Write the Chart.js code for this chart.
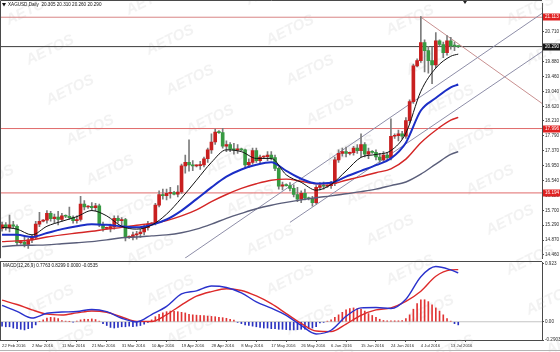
<!DOCTYPE html>
<html>
<head>
<meta charset="utf-8">
<title>XAGUSD Daily</title>
<script src="https://cdn.jsdelivr.net/npm/chart.js@4.4.1/dist/chart.umd.min.js"></script>
<style>
  html, body { margin: 0; padding: 0; background: #fff; }
  #wrap { position: relative; width: 560px; height: 352px; overflow: hidden; background: #fff; }
  #wrap canvas { position: absolute; left: 0; }
  #priceChart { top: 0; }
  #macdChart { top: 252px; }
  #frame { position: absolute; left: 0; top: 350px; width: 560px; height: 1px; background: #b4b4b4; }
</style>
</head>
<body>
<div id="wrap">
  <canvas id="priceChart" width="560" height="262"></canvas>
  <canvas id="macdChart" width="560" height="100"></canvas>
  <div id="frame"></div>
</div>
<script>
// ---- data: XAGUSD daily, 22 Feb 2016 - 14 Jul 2016 (with Sunday bars) ----
const xTickIdx = [0, 8, 16, 24, 32, 40, 48, 56, 64, 72, 80, 88, 96, 104, 112, 120];
const xLabels = ["22 Feb 2016", "2 Mar 2016", "11 Mar 2016", "21 Mar 2016", "31 Mar 2016",
  "10 Apr 2016", "19 Apr 2016", "28 Apr 2016", "8 May 2016", "17 May 2016", "26 May 2016",
  "6 Jun 2016", "15 Jun 2016", "24 Jun 2016", "4 Jul 2016", "13 Jul 2016"];
const priceTicks = [20.710, 20.290, 19.880, 19.460, 19.040, 18.620, 18.210, 17.790,
  17.370, 16.950, 16.540, 16.120, 15.700, 15.290, 14.870, 14.460];

const opens = [
  15.20, 15.30, 15.22, 15.30, 15.26, 14.80, 14.82, 14.75, 14.88, 14.95,
  15.32, 15.40, 15.43, 15.62, 15.47, 15.52, 15.45, 15.55, 15.54, 15.50,
  15.42, 15.45, 15.88, 15.80, 15.82, 15.78, 15.83, 15.30, 15.20, 15.22,
  15.25, 15.48, 15.42, 15.45, 14.95, 14.96, 15.02, 15.05, 15.10, 15.22,
  15.32, 15.34, 15.85, 16.15, 16.12, 16.18, 16.20, 16.16, 16.22, 16.95,
  17.05, 16.98, 16.95, 16.96, 16.98, 17.15, 17.40, 17.62, 17.90, 17.88,
  17.50, 17.55, 17.42, 17.40, 17.42, 17.40, 16.98, 17.05, 17.38, 17.10,
  17.20, 17.21, 17.25, 17.18, 16.88, 16.38, 16.42, 16.40, 16.32, 16.15,
  16.02, 16.18, 16.05, 16.03, 15.92, 16.35, 16.40, 16.38, 16.40, 16.45,
  17.12, 17.30, 17.35, 17.30, 17.32, 17.45, 17.38, 17.55, 17.28, 17.35,
  17.33, 17.20, 17.12, 17.25, 17.18, 17.78, 17.80, 17.85, 17.78, 18.22,
  18.75, 19.75, 19.90, 20.40, 20.18, 19.90, 19.78, 20.45, 20.35, 20.12,
  20.45, 20.31, 20.305];
const highs = [
  15.38, 15.36, 15.57, 15.40, 15.30, 14.84, 14.95, 14.92, 15.02, 15.40,
  15.65, 15.45, 15.70, 15.68, 15.60, 15.68, 15.62, 15.58, 15.80, 15.55,
  15.55, 16.10, 15.98, 15.84, 15.92, 15.90, 15.88, 15.38, 15.24, 15.32,
  15.55, 15.55, 15.50, 15.48, 14.99, 15.10, 15.12, 15.18, 15.30, 15.40,
  15.36, 15.90, 16.25, 16.30, 16.30, 16.35, 16.24, 16.40, 17.00, 17.25,
  17.68, 17.10, 16.98, 17.08, 17.20, 17.45, 17.85, 17.98, 17.94, 18.00,
  17.65, 17.60, 17.58, 17.55, 17.45, 17.42, 17.15, 17.45, 17.45, 17.25,
  17.23, 17.35, 17.35, 17.25, 16.92, 16.50, 16.45, 16.48, 16.42, 16.35,
  16.25, 16.30, 16.08, 16.10, 16.40, 16.48, 16.50, 16.42, 16.52, 17.20,
  17.40, 17.45, 17.48, 17.34, 17.50, 17.55, 17.85, 17.60, 17.45, 17.38,
  17.40, 17.30, 17.35, 17.32, 18.27, 17.85, 17.95, 17.92, 18.30, 18.80,
  19.80, 19.95, 21.13, 20.48, 20.30, 20.28, 20.68, 20.48, 20.42, 20.60,
  20.55, 20.42, 20.31];
const lows = [
  15.12, 15.15, 15.10, 15.20, 14.72, 14.76, 14.68, 14.64, 14.80, 14.90,
  15.25, 15.38, 15.35, 15.40, 15.35, 15.30, 15.40, 15.50, 15.45, 15.35,
  15.35, 15.40, 15.72, 15.76, 15.70, 15.68, 15.25, 15.12, 15.17, 15.10,
  15.18, 15.35, 15.30, 14.85, 14.92, 14.88, 14.90, 14.95, 15.02, 15.15,
  15.30, 15.30, 15.80, 16.02, 16.00, 16.05, 16.14, 16.08, 16.18, 16.75,
  16.80, 16.82, 16.92, 16.85, 16.92, 17.05, 17.30, 17.55, 17.86, 17.45,
  17.35, 17.35, 17.28, 17.30, 17.38, 16.90, 16.90, 17.00, 17.05, 17.02,
  17.17, 17.10, 17.12, 16.82, 16.30, 16.28, 16.38, 16.25, 16.08, 15.95,
  15.92, 16.00, 16.00, 15.82, 15.88, 16.28, 16.30, 16.35, 16.32, 16.40,
  17.05, 17.22, 17.20, 17.26, 17.25, 17.30, 17.20, 17.20, 17.15, 17.30,
  17.12, 17.05, 17.08, 17.10, 17.12, 17.72, 17.65, 17.70, 17.72, 18.15,
  18.70, 19.72, 19.85, 19.58, 19.55, 19.25, 19.70, 20.30, 19.98, 20.05,
  20.22, 20.18, 20.26];
const closes = [
  15.30, 15.22, 15.30, 15.26, 14.80, 14.82, 14.75, 14.88, 14.95, 15.32,
  15.40, 15.43, 15.62, 15.47, 15.52, 15.45, 15.55, 15.54, 15.50, 15.42,
  15.45, 15.88, 15.80, 15.82, 15.78, 15.83, 15.30, 15.20, 15.22, 15.25,
  15.48, 15.42, 15.45, 14.95, 14.96, 15.02, 15.05, 15.10, 15.22, 15.32,
  15.34, 15.85, 16.15, 16.12, 16.18, 16.20, 16.16, 16.22, 16.95, 17.05,
  16.98, 16.95, 16.96, 16.98, 17.15, 17.40, 17.62, 17.90, 17.88, 17.50,
  17.55, 17.42, 17.40, 17.42, 17.40, 16.98, 17.05, 17.38, 17.10, 17.20,
  17.21, 17.25, 17.18, 16.88, 16.38, 16.42, 16.40, 16.32, 16.15, 16.02,
  16.18, 16.05, 16.03, 15.92, 16.35, 16.40, 16.38, 16.40, 16.45, 17.12,
  17.30, 17.35, 17.30, 17.32, 17.45, 17.38, 17.55, 17.28, 17.35, 17.33,
  17.20, 17.12, 17.25, 17.18, 17.78, 17.80, 17.85, 17.78, 18.22, 18.75,
  19.75, 19.90, 20.40, 20.18, 19.90, 19.78, 20.45, 20.35, 20.12, 20.45,
  20.31, 20.305, 20.29];

// moving averages, read at every 4th bar
const maIdx = [0, 4, 8, 12, 16, 20, 24, 28, 32, 36, 40, 44, 48, 52, 56, 60,
  64, 68, 72, 76, 80, 84, 88, 92, 96, 100, 104, 108, 112, 116, 120, 122];
const maBlack = [15.23, 15.18, 15.02, 15.26, 15.40, 15.53, 15.70, 15.55, 15.26, 15.18, 15.29, 15.60,
  16.05, 16.55, 17.05, 17.40, 17.35, 17.16, 17.16, 16.70, 16.49, 16.27, 16.43, 16.81, 17.19, 17.27,
  17.38, 17.87, 19.04, 19.69, 20.02, 20.08];
const maBlue = [15.02, 15.02, 14.96, 15.07, 15.18, 15.26, 15.32, 15.30, 15.26, 15.23, 15.30, 15.45,
  15.70, 16.02, 16.35, 16.65, 16.85, 16.98, 17.05, 16.81, 16.59, 16.46, 16.48, 16.65, 16.81, 16.97,
  17.16, 17.60, 18.50, 18.85, 19.15, 19.23];
const maRed = [14.83, 14.85, 14.88, 14.96, 15.02, 15.07, 15.12, 15.18, 15.23, 15.29, 15.34, 15.42,
  15.55, 15.72, 15.95, 16.15, 16.32, 16.45, 16.55, 16.58, 16.52, 16.45, 16.45, 16.55, 16.65, 16.76,
  16.87, 17.14, 17.60, 17.95, 18.23, 18.31];
const maGray = [14.69, 14.72, 14.73, 14.74, 14.77, 14.80, 14.83, 14.88, 14.94, 14.96, 14.99, 15.02,
  15.08, 15.18, 15.32, 15.48, 15.62, 15.75, 15.85, 15.93, 16.00, 16.06, 16.11, 16.17, 16.23, 16.30,
  16.40, 16.50, 16.72, 17.00, 17.27, 17.35];

// horizontal levels and trend lines (bar index, price)
const levelValues = [21.113, 20.290, 17.996, 16.194];
const trendX = [[48.9, 144.4], [77, 144.4], [111.8, 144.4]];
const trendY = [[14.365, 21.22], [15.37, 20.15], [21.13, 18.70]];

// MACD(12,26,9)
const macdHeader = [0.7763, 0.8299, 0.0000, -0.0535];
const macdTicks = [0.923, 0, -0.2903];
const macdMain = [0.261, 0.164, 0.059, 0.135, 0.154, 0.162, 0.196, 0.161, 0.056, -0.003, 0.114, 0.245,
  0.442, 0.491, 0.568, 0.545, 0.461, 0.315, 0.216, 0.102, -0.059, -0.194, -0.135, 0.087, 0.221, 0.226,
  0.211, 0.359, 0.717, 0.878, 0.824, 0.776];
const macdSignal = [0.343, 0.275, 0.189, 0.121, 0.108, 0.141, 0.172, 0.151, 0.076, 0.006, 0.005, 0.113,
  0.267, 0.407, 0.480, 0.526, 0.498, 0.410, 0.288, 0.130, -0.027, -0.148, -0.157, -0.037, 0.103, 0.188,
  0.221, 0.324, 0.485, 0.723, 0.825, 0.830];
const macdHist = [
  -0.07, -0.08, -0.08, -0.10, -0.11, -0.12, -0.13, -0.11, -0.10, -0.05,
  0.005, 0.03, 0.06, 0.07, 0.065, 0.05, 0.02, 0.01, 0.005, -0.005,
  0.01, 0.03, 0.04, 0.04, 0.045, 0.035, 0.01, -0.03, -0.06, -0.09,
  -0.10, -0.09, -0.08, -0.08, -0.07, -0.08, -0.07, -0.06, -0.04, -0.01,
  0.03, 0.08, 0.12, 0.14, 0.16, 0.17, 0.165, 0.16, 0.15, 0.14,
  0.12, 0.11, 0.105, 0.10, 0.10, 0.09, 0.085, 0.08, 0.07, 0.065,
  0.055, 0.04, 0.025, -0.01, -0.03, -0.05, -0.06, -0.07, -0.08, -0.09,
  -0.10, -0.10, -0.11, -0.11, -0.12, -0.12, -0.125, -0.13, -0.13, -0.125,
  -0.12, -0.12, -0.11, -0.10, -0.08, -0.02, -0.01, 0.01, 0.03, 0.07,
  0.11, 0.15, 0.19, 0.21, 0.22, 0.21, 0.20, 0.17, 0.13, 0.10,
  0.07, 0.04, 0.02, 0.015, 0.015, 0.015, 0.015, 0.02, 0.05, 0.11,
  0.20, 0.29, 0.35, 0.35, 0.32, 0.27, 0.22, 0.17, 0.11, 0.05,
  0.01, -0.03, -0.05];

// ---- styles ----
const FONT = "Liberation Sans";
const X_MIN = -0.55, X_MAX = 144.4;
const UP = "#c81f1f", DOWN = "#379a42", WICK = "#7c7c7c";
const levelLineColors = ["#d88585", "#3c3c3c", "#e06a6a", "#e06a6a"];
const levelBoxColors = ["#e02222", "#161616", "#e02222", "#e02222"];
const trendColors = ["#8e8ea8", "#8e8ea8", "#c99090"];
const AXIS = "#4a4a4a";

const barIdx = opens.map((_, i) => i);

function maLine(values, color, width, order) {
  return {
    type: "line",
    data: maIdx.map((x, k) => ({ x, y: values[k] })),
    borderColor: color,
    borderWidth: width,
    pointRadius: 0,
    cubicInterpolationMode: "monotone",
    order,
  };
}

// AETOS watermark, drawn in page coordinates
function drawWatermark(chart, offsetY, minY) {
  const ctx = chart.ctx;
  ctx.save();
  ctx.beginPath();
  ctx.rect(0, minY, chart.width, chart.height - minY);
  ctx.clip();
  ctx.font = "bold italic 15px " + FONT;
  ctx.fillStyle = "rgba(175,175,175,0.17)";
  ctx.textAlign = "center";
  ctx.textBaseline = "middle";
  for (let n = -3; n < 11; n++) {
    for (let m = -2; m < 7; m++) {
      const x = 30 + 120 * m + 20 * n;
      const y = 10 + 40 * n - 10 * m - offsetY;
      if (x < -50 || x > 620 || y < -30 || y > chart.height + 30) continue;
      ctx.save();
      ctx.translate(x, y);
      ctx.rotate(-0.45);
      ctx.fillText("AETOS", 0, 0);
      ctx.restore();
    }
  }
  ctx.restore();
}

const priceDecor = {
  id: "priceDecor",
  beforeDatasetsDraw(chart) {
    drawWatermark(chart, 0, 0);
  },
  afterDraw(chart) {
    const { ctx, chartArea: a } = chart;
    const y = chart.scales.y;
    ctx.save();
    ctx.strokeStyle = AXIS;
    ctx.lineWidth = 1;
    ctx.beginPath();
    ctx.moveTo(0.5, a.bottom); ctx.lineTo(0.5, 0.5); ctx.lineTo(a.right, 0.5);
    ctx.stroke();
    // level price boxes on the axis
    ctx.font = "4.6px " + FONT;
    ctx.textBaseline = "middle";
    levelValues.forEach((v, k) => {
      const py = y.getPixelForValue(v);
      ctx.fillStyle = levelBoxColors[k];
      ctx.fillRect(a.right + 1, Math.round(py) - 3.5, 18, 7);
      ctx.fillStyle = "#fff";
      ctx.fillText(v.toFixed(3), a.right + 3, py);
    });
    // title
    const n = opens.length - 1;
    ctx.fillStyle = "#111";
    ctx.beginPath();
    ctx.moveTo(2, 3); ctx.lineTo(6, 3); ctx.lineTo(4, 6.5); ctx.closePath();
    ctx.fill();
    ctx.font = "4.6px " + FONT;
    ctx.fillText("XAGUSD,Daily  " + [opens[n], highs[n], lows[n], closes[n]].map(v => v.toFixed(3)).join(" "), 8, 5);
    // chart shift marker
    ctx.fillStyle = "#222";
    ctx.beginPath();
    ctx.moveTo(463, 1); ctx.lineTo(467, 1); ctx.lineTo(465, 4); ctx.closePath();
    ctx.fill();
    ctx.restore();
  },
};

new Chart(document.getElementById("priceChart"), {
  type: "bar",
  data: {
    datasets: [
      ...levelValues.map((v, k) => ({
        type: "line",
        data: [{ x: X_MIN, y: v }, { x: X_MAX, y: v }],
        borderColor: levelLineColors[k],
        borderWidth: 1,
        pointRadius: 0,
        order: 30,
      })),
      ...trendX.map((xs, k) => ({
        type: "line",
        data: xs.map((x, j) => ({ x, y: trendY[k][j] })),
        borderColor: trendColors[k],
        borderWidth: 1,
        pointRadius: 0,
        order: 29,
      })),
      {
        data: barIdx.map(i => ({ x: i, y: [lows[i], highs[i]] })),
        backgroundColor: WICK,
        grouped: false, barThickness: 1, maxBarThickness: 1,
        order: 12,
      },
      {
        data: barIdx.map(i => ({ x: i, y: [opens[i], closes[i]] })),
        backgroundColor: barIdx.map(i => (closes[i] >= opens[i] ? UP : DOWN)),
        grouped: false, barThickness: 3, maxBarThickness: 3, minBarLength: 1,
        order: 11,
      },
      maLine(maGray, "#5a5e7a", 1.4, 4),
      maLine(maRed, "#d42626", 1.4, 3),
      maLine(maBlue, "#1b2ec6", 2, 2),
      maLine(maBlack, "#111111", 1, 1),
    ],
  },
  options: {
    responsive: false,
    animation: false,
    devicePixelRatio: 1,
    layout: { padding: 0, autoPadding: false },
    plugins: { legend: { display: false }, tooltip: { enabled: false } },
    scales: {
      x: { type: "linear", min: X_MIN, max: X_MAX, offset: false, display: false },
      y: {
        position: "right",
        min: 14.365,
        max: 21.49,
        beginAtZero: false,
        afterBuildTicks: (s) => { s.ticks = priceTicks.map(v => ({ value: v })); },
        afterFit: (s) => { s.width = 18; },
        grid: { drawOnChartArea: false, tickLength: 2, color: AXIS },
        border: { color: AXIS },
        ticks: {
          padding: 1,
          color: "#2a2a2a",
          font: { family: FONT, size: 4.6 },
          callback: (v) => Number(v).toFixed(3),
        },
      },
    },
  },
  plugins: [priceDecor],
});

// ---- MACD panel ----
const macdDecor = {
  id: "macdDecor",
  beforeDatasetsDraw(chart) {
    drawWatermark(chart, 252, 10);
  },
  afterDraw(chart) {
    const { ctx, chartArea: a } = chart;
    ctx.save();
    ctx.strokeStyle = AXIS;
    ctx.lineWidth = 1;
    ctx.beginPath();
    ctx.moveTo(0, a.top - 0.5); ctx.lineTo(a.right, a.top - 0.5);
    ctx.moveTo(0.5, a.top); ctx.lineTo(0.5, a.bottom);
    ctx.stroke();
    ctx.fillStyle = "#111";
    ctx.font = "4.6px " + FONT;
    ctx.textBaseline = "middle";
    ctx.fillText("MACD(12,26,9) " + macdHeader.map(v => v.toFixed(4)).join(" "), 3, a.top + 3.5);
    ctx.restore();
  },
};

new Chart(document.getElementById("macdChart"), {
  type: "bar",
  data: {
    datasets: [
      {
        type: "line",
        data: [{ x: X_MIN, y: 0 }, { x: X_MAX, y: 0 }],
        borderColor: "#c4c4c4",
        borderWidth: 1,
        pointRadius: 0,
        order: 10,
      },
      {
        data: barIdx.map(i => ({ x: i, y: macdHist[i] })),
        backgroundColor: macdHist.map(v => (v >= 0 ? "#e03434" : "#2b33c0")),
        grouped: false, barThickness: 1, maxBarThickness: 1,
        order: 5,
      },
      {
        type: "line",
        data: maIdx.map((x, k) => ({ x, y: macdSignal[k] })),
        borderColor: "#dd2a2a",
        borderWidth: 1.4,
        pointRadius: 0,
        cubicInterpolationMode: "monotone",
        order: 2,
      },
      {
        type: "line",
        data: maIdx.map((x, k) => ({ x, y: macdMain[k] })),
        borderColor: "#2a32cc",
        borderWidth: 1.4,
        pointRadius: 0,
        cubicInterpolationMode: "monotone",
        order: 1,
      },
    ],
  },
  options: {
    responsive: false,
    animation: false,
    devicePixelRatio: 1,
    layout: { padding: { top: 10 }, autoPadding: false },
    plugins: { legend: { display: false }, tooltip: { enabled: false } },
    scales: {
      x: {
        type: "linear",
        min: X_MIN,
        max: X_MAX,
        offset: false,
        afterBuildTicks: (s) => { s.ticks = xTickIdx.map(v => ({ value: v })); },
        afterFit: (s) => { s.height = 12; },
        grid: { drawOnChartArea: false, tickLength: 2, color: AXIS },
        border: { color: AXIS },
        ticks: {
          autoSkip: false,
          maxRotation: 0,
          minRotation: 0,
          align: "start",
          padding: 1,
          color: "#2a2a2a",
          font: { family: FONT, size: 4.2 },
          callback: (v, i) => xLabels[i],
        },
      },
      y: {
        position: "right",
        min: -0.2903,
        max: 0.9505,
        beginAtZero: false,
        afterBuildTicks: (s) => { s.ticks = macdTicks.map(v => ({ value: v })); },
        afterFit: (s) => { s.width = 18; },
        grid: { drawOnChartArea: false, tickLength: 2, color: AXIS },
        border: { color: AXIS },
        ticks: {
          padding: 1,
          color: "#2a2a2a",
          font: { family: FONT, size: 4.6 },
          callback: (v) => (v === 0 ? "0.00" : String(v)),
        },
      },
    },
  },
  plugins: [macdDecor],
});
</script>
</body>
</html>
